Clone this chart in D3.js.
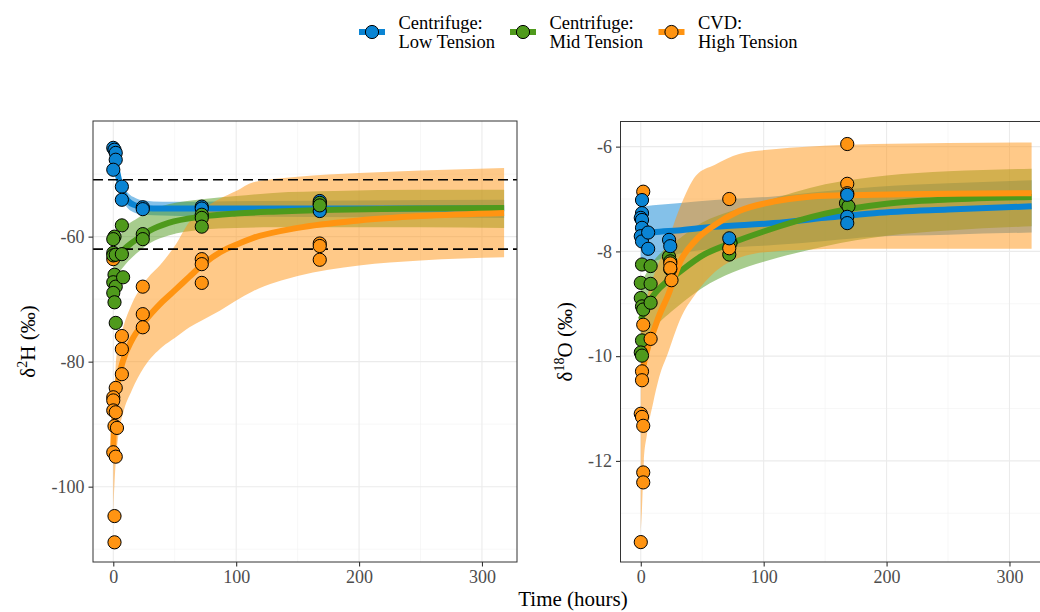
<!DOCTYPE html>
<html>
<head>
<meta charset="utf-8">
<script src="https://cdn.jsdelivr.net/npm/d3@7"></script>
<style>
  body { margin: 0; background: #fff; }
  svg { font-family: "Liberation Serif", "Times New Roman", serif; }
</style>
</head>
<body>
<svg id="chart" width="1040" height="612"></svg>
<script>
// ---- data ----
const seriesNames = ["Low", "Mid", "High"];
const legendLines = [["Centrifuge:", "Low Tension"], ["Centrifuge:", "Mid Tension"], ["CVD:", "High Tension"]];
const seriesColors = ["#0a84d3", "#4f9a1c", "#ff9412"];

const xTicks = [0, 100, 200, 300];
const hTicks = [-100, -80, -60];
const oTicks = [-12, -10, -8, -6];
const hRefLines = [-50.9, -62.0];

// fitted curves: [time, fit, lower, upper]
const hLowFit = [[0,-45.5,-46.5,-44.5],[2,-48.3,-49.5,-47.2],[5,-51.2,-52.5,-50.0],[8,-53.0,-54.3,-51.8],[12,-54.3,-55.5,-53.0],[18,-55.0,-56.2,-53.8],[25,-55.4,-56.5,-54.2],[40,-55.5,-56.6,-54.4],[70,-55.5,-56.7,-54.4],[120,-55.5,-56.8,-54.3],[200,-55.5,-56.9,-54.2],[318,-55.5,-57.0,-54.1]];
const hMidFit = [[0,-64.0,-66.8,-61.5],[5,-62.8,-65.6,-60.0],[10,-61.8,-64.4,-58.5],[20,-60.3,-62.5,-57.0],[30,-59.0,-61.0,-55.8],[45,-57.8,-59.8,-54.8],[72,-56.8,-58.9,-54.0],[100,-56.3,-58.6,-53.5],[130,-56.0,-58.5,-53.0],[180,-55.7,-58.5,-52.7],[250,-55.5,-58.5,-52.5],[318,-55.4,-58.6,-52.5]];
const hHighFit = [[0,-93.5,-104.5,-90],[0.5,-90.5,-101.5,-87],[1,-88.5,-99.4,-84.5],[2,-86.0,-96,-80.5],[4,-83,-92,-77.5],[8,-79.8,-88.2,-74.5],[15,-76.6,-84.6,-70.8],[25,-73.7,-80.9,-67.4],[40,-70.4,-77.6,-64.1],[50,-68.6,-76.2,-61.5],[62,-66.4,-74.5,-57.6],[72,-64.6,-73.4,-55.8],[87,-62.5,-71.8,-53.9],[100,-61.3,-70.2,-52.7],[114,-60.2,-68.7,-51.3],[150,-58.6,-66.3,-50.4],[200,-57.4,-64.6,-49.8],[250,-56.7,-63.8,-49.4],[318,-56.2,-63.3,-49.0]];

const oLowFit = [[0,-7.68,-8.3,-7.15],[10,-7.64,-8.2,-7.12],[30,-7.6,-8.05,-7.08],[60,-7.53,-7.95,-7.02],[108,-7.46,-7.88,-6.95],[150,-7.36,-7.8,-6.85],[190,-7.27,-7.72,-6.77],[250,-7.2,-7.68,-6.7],[318,-7.14,-7.64,-6.64]];
const oMidFit = [[0,-9.3,-9.95,-8.6],[5,-9.05,-9.7,-8.4],[10,-8.85,-9.5,-8.2],[20,-8.6,-9.25,-7.95],[30,-8.42,-9.05,-7.78],[50,-8.08,-8.7,-7.45],[75,-7.83,-8.4,-7.22],[100,-7.62,-8.2,-7.05],[150,-7.28,-7.9,-6.72],[200,-7.09,-7.7,-6.55],[250,-7.01,-7.6,-6.47],[318,-6.96,-7.52,-6.42]];
const oHighFit = [[0,-10.5,-13.35,-9.6],[1,-10.35,-12.9,-9.4],[2.5,-10.15,-12.0,-9.2],[5,-9.9,-11.5,-8.9],[10,-9.55,-10.9,-8.5],[15,-9.22,-10.4,-8.2],[22,-8.85,-9.95,-7.8],[32,-8.2,-9.3,-7.15],[45,-7.78,-8.8,-6.55],[60,-7.5,-8.4,-6.35],[80,-7.23,-8.12,-6.14],[108,-7.05,-8.0,-6.05],[135,-6.96,-7.97,-6.0],[163,-6.93,-7.95,-5.97],[190,-6.92,-7.95,-5.95],[250,-6.9,-7.95,-5.93],[318,-6.89,-7.95,-5.92]];

// observations: [time, value]
const hLowPts = [[0,-45.8],[1,-46.1],[2,-46.6],[2,-47.7],[0,-49.3],[7,-52.0],[7,-54.1],[24,-55.3],[24,-55.6],[72,-55.2],[72,-55.5],[168,-54.3],[168,-54.8],[168,-55.9]];
const hMidPts = [[1,-60.0],[0,-60.4],[0,-62.6],[0,-63.0],[2,-62.9],[1,-66.1],[0,-67.3],[2,-68.0],[0,-69.0],[1,-70.5],[2,-73.8],[7,-58.2],[7,-62.8],[8,-66.5],[24,-59.6],[24,-60.4],[72,-56.5],[72,-57.0],[72,-58.4],[168,-54.6],[168,-55.0]];
const hHighPts = [[0,-63.6],[2,-84.2],[0,-85.7],[0,-86.2],[0,-87.8],[2,-88.1],[1,-90.3],[3,-90.6],[0,-94.5],[2,-95.2],[1,-104.7],[1,-108.9],[7,-75.9],[7,-78.0],[7,-82.0],[24,-68.0],[24,-72.4],[24,-74.5],[72,-63.6],[72,-64.4],[72,-67.4],[168,-61.1],[168,-61.5],[168,-63.7]];

const oLowPts = [[1,-7.02],[1,-7.27],[0,-7.36],[1,-7.40],[1,-7.55],[0,-7.71],[1,-7.81],[6,-7.64],[6,-7.95],[23,-7.78],[24,-7.90],[72,-7.75],[168,-6.92],[168,-7.34],[168,-7.46]];
const oMidPts = [[1,-8.25],[0,-8.60],[0,-8.89],[1,-9.05],[2,-9.11],[1,-9.70],[0,-9.93],[1,-9.99],[8,-8.28],[8,-8.62],[8,-8.98],[23,-8.10],[24,-8.19],[24,-8.34],[73,-7.84],[72,-8.06],[167,-7.08],[169,-7.14]];
const oHighPts = [[2,-6.86],[2,-9.40],[1,-10.29],[1,-10.46],[0,-11.10],[1,-11.16],[2,-11.33],[2,-12.22],[2,-12.41],[0,-13.55],[8,-9.67],[24,-8.23],[24,-8.32],[25,-8.55],[72,-7.00],[72,-7.94],[168,-5.95],[168,-6.71],[168,-6.89]];

// ---- drawing ----
let svg = d3.select("#chart");
let serif = "Liberation Serif, Times New Roman, serif";

let panels = [
    { id: "h", left: 93, right: 517, top: 121, bottom: 562, yDomain: [-112.05, -41.5],
      yTicks: hTicks, yMinor: [-110, -90, -70, -50], fits: [hLowFit, hMidFit, hHighFit],
      pts: [hLowPts, hMidPts, hHighPts], pointOrder: [2, 0, 1], refLines: hRefLines,
      title: ["δ", "2", "H (‰)"], titleX: 35 },
    { id: "o", left: 620.5, right: 1044.5, top: 121.5, bottom: 562, yDomain: [-13.93, -5.52],
      yTicks: oTicks, yMinor: [-13, -11, -9, -7], fits: [oLowFit, oMidFit, oHighFit],
      pts: [oLowPts, oMidPts, oHighPts], pointOrder: [1, 2, 0], refLines: [],
      title: ["δ", "18", "O (‰)"], titleX: 572 }
];

panels.forEach(drawPanel);

function drawPanel(p){
    let x = d3.scaleLinear().domain([-16.5, 328.5]).range([p.left, p.right]);
    let y = d3.scaleLinear().domain(p.yDomain).range([p.bottom, p.top]);

    let g = svg.append("g");

    g.append("clipPath").attr("id", "clip-" + p.id)
        .append("rect")
        .attr("x", p.left).attr("y", p.top)
        .attr("width", p.right - p.left).attr("height", p.bottom - p.top);

    // grid
    g.selectAll(".vminor").data([50, 150, 250]).enter().append("line")
        .attr("x1", d => x(d)).attr("x2", d => x(d))
        .attr("y1", p.top).attr("y2", p.bottom)
        .attr("stroke", "#f2f2f2").attr("stroke-width", 0.6);
    g.selectAll(".hminor").data(p.yMinor).enter().append("line")
        .attr("x1", p.left).attr("x2", p.right)
        .attr("y1", d => y(d)).attr("y2", d => y(d))
        .attr("stroke", "#f2f2f2").attr("stroke-width", 0.6);
    g.selectAll(".vmajor").data(xTicks).enter().append("line")
        .attr("x1", d => x(d)).attr("x2", d => x(d))
        .attr("y1", p.top).attr("y2", p.bottom)
        .attr("stroke", "#ebebeb").attr("stroke-width", 1.1);
    g.selectAll(".hmajor").data(p.yTicks).enter().append("line")
        .attr("x1", p.left).attr("x2", p.right)
        .attr("y1", d => y(d)).attr("y2", d => y(d))
        .attr("stroke", "#ebebeb").attr("stroke-width", 1.1);

    let plot = g.append("g").attr("clip-path", "url(#clip-" + p.id + ")");

    let area = d3.area()
        .x(d => x(d[0])).y0(d => y(d[2])).y1(d => y(d[3]))
        .curve(d3.curveMonotoneX);
    let line = d3.line()
        .x(d => x(d[0])).y(d => y(d[1]))
        .curve(d3.curveMonotoneX);

    p.fits.forEach((f, i) => {
        plot.append("path").attr("d", area(f))
            .attr("fill", seriesColors[i]).attr("fill-opacity", 0.5);
    });
    p.fits.forEach((f, i) => {
        plot.append("path").attr("d", line(f))
            .attr("fill", "none").attr("stroke", seriesColors[i])
            .attr("stroke-width", 6);
    });

    plot.selectAll(".ref").data(p.refLines).enter().append("line")
        .attr("x1", p.left).attr("x2", p.right)
        .attr("y1", d => y(d)).attr("y2", d => y(d))
        .attr("stroke", "#000").attr("stroke-width", 1.6)
        .attr("stroke-dasharray", "10,5");

    p.pointOrder.forEach(i => {
        plot.append("g").selectAll("circle")
            .data(p.pts[i]).enter().append("circle")
            .attr("cx", d => x(d[0])).attr("cy", d => y(d[1]))
            .attr("r", 6.6)
            .attr("fill", seriesColors[i])
            .attr("stroke", "#000").attr("stroke-width", 1);
    });

    // border
    g.append("rect")
        .attr("x", p.left).attr("y", p.top)
        .attr("width", p.right - p.left).attr("height", p.bottom - p.top)
        .attr("fill", "none").attr("stroke", "#333").attr("stroke-width", 1);

    // axes
    let xAxis = g.append("g").attr("transform", "translate(0," + p.bottom + ")")
        .call(d3.axisBottom(x).tickValues(xTicks).tickSize(4.5).tickPadding(4).tickFormat(d => String(d)));
    let yAxis = g.append("g").attr("transform", "translate(" + p.left + ",0)")
        .call(d3.axisLeft(y).tickValues(p.yTicks).tickSize(4.5).tickPadding(4).tickFormat(d => String(d)));
    [xAxis, yAxis].forEach(a => {
        a.select(".domain").remove();
        a.selectAll(".tick line").attr("stroke", "#333").attr("stroke-width", 1.1);
        a.selectAll("text").attr("fill", "#4d4d4d")
            .style("font-size", "18px").style("font-family", serif);
    });

    // y title
    let cy = (p.top + p.bottom) / 2;
    let t = g.append("text")
        .attr("transform", "translate(" + p.titleX + "," + cy + ") rotate(-90)")
        .attr("text-anchor", "middle")
        .style("font-size", "21px").style("font-family", serif)
        .attr("fill", "#000");
    t.append("tspan").text(p.title[0]);
    t.append("tspan").attr("dy", -8).style("font-size", "14px").text(p.title[1]);
    t.append("tspan").attr("dy", 8).text(p.title[2]);
}

// x title
svg.append("text")
    .attr("x", 573).attr("y", 606)
    .attr("text-anchor", "middle")
    .style("font-size", "21px").style("font-family", serif)
    .text("Time (hours)");

// legend
let legendX = [359, 510, 658.5];
let legend = svg.append("g");
seriesNames.forEach((s, i) => {
    let lg = legend.append("g").attr("transform", "translate(" + legendX[i] + ",32)");
    lg.append("line").attr("x1", 0).attr("x2", 26).attr("y1", 0).attr("y2", 0)
        .attr("stroke", seriesColors[i]).attr("stroke-width", 6);
    lg.append("circle").attr("cx", 13).attr("cy", 0).attr("r", 6.6)
        .attr("fill", seriesColors[i]).attr("stroke", "#000").attr("stroke-width", 1);
    lg.selectAll("text").data(legendLines[i]).enter().append("text")
        .attr("x", 39.5).attr("y", (d, j) => j === 0 ? -3 : 16)
        .style("font-size", "18.5px").style("font-family", serif)
        .text(d => d);
});
</script>
</body>
</html>
